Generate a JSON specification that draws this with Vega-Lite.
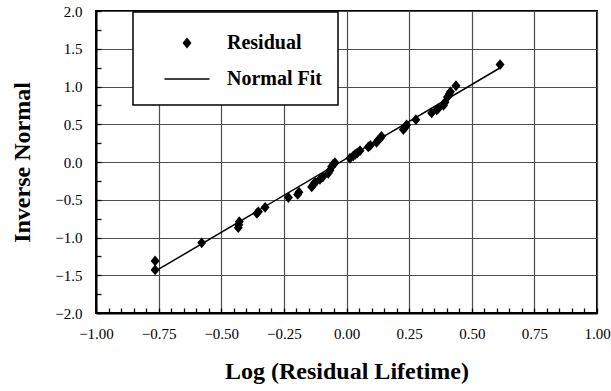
{
  "$schema": "https://vega.github.io/schema/vega-lite/v6.json",
  "width": 501,
  "height": 302,
  "autosize": {"type": "none"},
  "padding": {"left": 96, "top": 11, "right": 14, "bottom": 78},
  "background": "white",
  "datasets": {
    "pts": [
      {"x": -0.764, "y": -1.31, "s": "Residual"},
      {"x": -0.764, "y": -1.43, "s": "Residual"},
      {"x": -0.578, "y": -1.07, "s": "Residual"},
      {"x": -0.432, "y": -0.87, "s": "Residual"},
      {"x": -0.430, "y": -0.83, "s": "Residual"},
      {"x": -0.428, "y": -0.79, "s": "Residual"},
      {"x": -0.358, "y": -0.68, "s": "Residual"},
      {"x": -0.352, "y": -0.66, "s": "Residual"},
      {"x": -0.325, "y": -0.60, "s": "Residual"},
      {"x": -0.232, "y": -0.47, "s": "Residual"},
      {"x": -0.195, "y": -0.43, "s": "Residual"},
      {"x": -0.190, "y": -0.40, "s": "Residual"},
      {"x": -0.139, "y": -0.33, "s": "Residual"},
      {"x": -0.133, "y": -0.30, "s": "Residual"},
      {"x": -0.125, "y": -0.27, "s": "Residual"},
      {"x": -0.106, "y": -0.23, "s": "Residual"},
      {"x": -0.095, "y": -0.20, "s": "Residual"},
      {"x": -0.073, "y": -0.15, "s": "Residual"},
      {"x": -0.066, "y": -0.11, "s": "Residual"},
      {"x": -0.059, "y": -0.06, "s": "Residual"},
      {"x": -0.053, "y": -0.03, "s": "Residual"},
      {"x": -0.046, "y": -0.01, "s": "Residual"},
      {"x": 0.014, "y": 0.05, "s": "Residual"},
      {"x": 0.027, "y": 0.08, "s": "Residual"},
      {"x": 0.035, "y": 0.10, "s": "Residual"},
      {"x": 0.043, "y": 0.12, "s": "Residual"},
      {"x": 0.054, "y": 0.15, "s": "Residual"},
      {"x": 0.087, "y": 0.20, "s": "Residual"},
      {"x": 0.095, "y": 0.22, "s": "Residual"},
      {"x": 0.120, "y": 0.26, "s": "Residual"},
      {"x": 0.127, "y": 0.29, "s": "Residual"},
      {"x": 0.136, "y": 0.32, "s": "Residual"},
      {"x": 0.140, "y": 0.34, "s": "Residual"},
      {"x": 0.227, "y": 0.43, "s": "Residual"},
      {"x": 0.234, "y": 0.46, "s": "Residual"},
      {"x": 0.240, "y": 0.49, "s": "Residual"},
      {"x": 0.277, "y": 0.56, "s": "Residual"},
      {"x": 0.340, "y": 0.65, "s": "Residual"},
      {"x": 0.360, "y": 0.69, "s": "Residual"},
      {"x": 0.367, "y": 0.71, "s": "Residual"},
      {"x": 0.387, "y": 0.75, "s": "Residual"},
      {"x": 0.393, "y": 0.79, "s": "Residual"},
      {"x": 0.403, "y": 0.86, "s": "Residual"},
      {"x": 0.410, "y": 0.90, "s": "Residual"},
      {"x": 0.415, "y": 0.93, "s": "Residual"},
      {"x": 0.437, "y": 1.01, "s": "Residual"},
      {"x": 0.613, "y": 1.29, "s": "Residual"}
    ],
    "fit": [
      {"x": -0.765, "y": -1.45},
      {"x": 0.612, "y": 1.245}
    ]
  },
  "config": {
    "font": "Liberation Serif",
    "view": {"stroke": "black", "strokeWidth": 2},
    "axis": {
      "labelFont": "Liberation Serif",
      "labelFontSize": 15,
      "labelColor": "black",
      "titleFont": "Liberation Serif",
      "titleFontSize": 24,
      "titleFontWeight": "bold",
      "titleColor": "black",
      "domainColor": "black",
      "domainWidth": 2,
      "ticks": true,
      "tickColor": "black",
      "tickWidth": 1.3,
      "tickOpacity": 1,
      "gridColor": "#4d4d4d",
      "gridWidth": 1.2,
      "zindex": 1
    },
    "legend": {
      "orient": "none",
      "legendX": 37,
      "legendY": 1,
      "fillColor": "white",
      "strokeColor": "black",
      "strokeWidth": 1.5,
      "padding": 16,
      "labelFont": "Liberation Serif",
      "labelFontSize": 20,
      "labelFontWeight": "bold",
      "labelColor": "black",
      "labelOffset": 25,
      "symbolOffset": 23,
      "rowPadding": 11,
      "symbolSize": 900,
      "symbolFillColor": "black",
      "symbolStrokeWidth": 0,
      "title": null,
      "zindex": 2
    }
  },
  "encoding": {
    "x": {
      "field": "x",
      "type": "quantitative",
      "scale": {"domain": [-1, 1], "nice": false, "zero": false},
      "axis": {
        "title": "Log (Residual Lifetime)",
        "values": [-1, -0.95, -0.9, -0.85, -0.8, -0.75, -0.7, -0.65, -0.6, -0.55, -0.5, -0.45, -0.4, -0.35, -0.3, -0.25, -0.2, -0.15, -0.1, -0.05, 0, 0.05, 0.1, 0.15, 0.2, 0.25, 0.3, 0.35, 0.4, 0.45, 0.5, 0.55, 0.6, 0.65, 0.7, 0.75, 0.8, 0.85, 0.9, 0.95, 1],
        "labelExpr": "abs(round(datum.value*100) % 25) == 0 ? format(datum.value, '.2f') : ''",
        "grid": true,
        "gridOpacity": {"condition": {"test": "abs(round(datum.value*100) % 25) == 0", "value": 1}, "value": 0},
        "tickSize": -5,
        "labelPadding": 18,
        "labelFlush": false,
        "labelOverlap": false,
        "titlePadding": 18
      }
    },
    "y": {
      "field": "y",
      "type": "quantitative",
      "scale": {"domain": [-2, 2], "nice": false, "zero": false},
      "axis": {
        "title": "Inverse Normal",
        "values": [-2, -1.75, -1.5, -1.25, -1, -0.75, -0.5, -0.25, 0, 0.25, 0.5, 0.75, 1, 1.25, 1.5, 1.75, 2],
        "labelExpr": "abs(round(datum.value*100) % 50) == 0 ? format(datum.value, '.1f') : ''",
        "grid": true,
        "gridOpacity": {"condition": {"test": "abs(round(datum.value*100) % 50) == 0", "value": 1}, "value": 0},
        "tickSize": -5,
        "labelPadding": 19,
        "labelFlush": false,
        "labelOverlap": false,
        "titleAngle": -90,
        "titleX": -74,
        "titleY": 151,
        "titleAlign": "center",
        "titleBaseline": "middle"
      }
    }
  },
  "layer": [
    {
      "data": {"name": "fit"},
      "mark": {"type": "line", "color": "black", "strokeWidth": 1.5}
    },
    {
      "data": {"name": "pts"},
      "mark": {"type": "point", "filled": true, "color": "black", "opacity": 1, "size": 900},
      "encoding": {
        "shape": {
          "field": "s",
          "type": "nominal",
          "scale": {
            "domain": ["Residual", "Normal Fit"],
            "range": ["M-0.3,0L0,-0.36L0.3,0L0,0.36Z", "M-1.5,-0.05H1.5V0.05H-1.5Z"]
          },
          "legend": {"labelExpr": "datum.label + '\u00a0\u00a0\u00a0\u00a0\u00a0\u00a0\u00a0\u00a0\u00a0\u00a0'"}
        }
      }
    }
  ]
}
